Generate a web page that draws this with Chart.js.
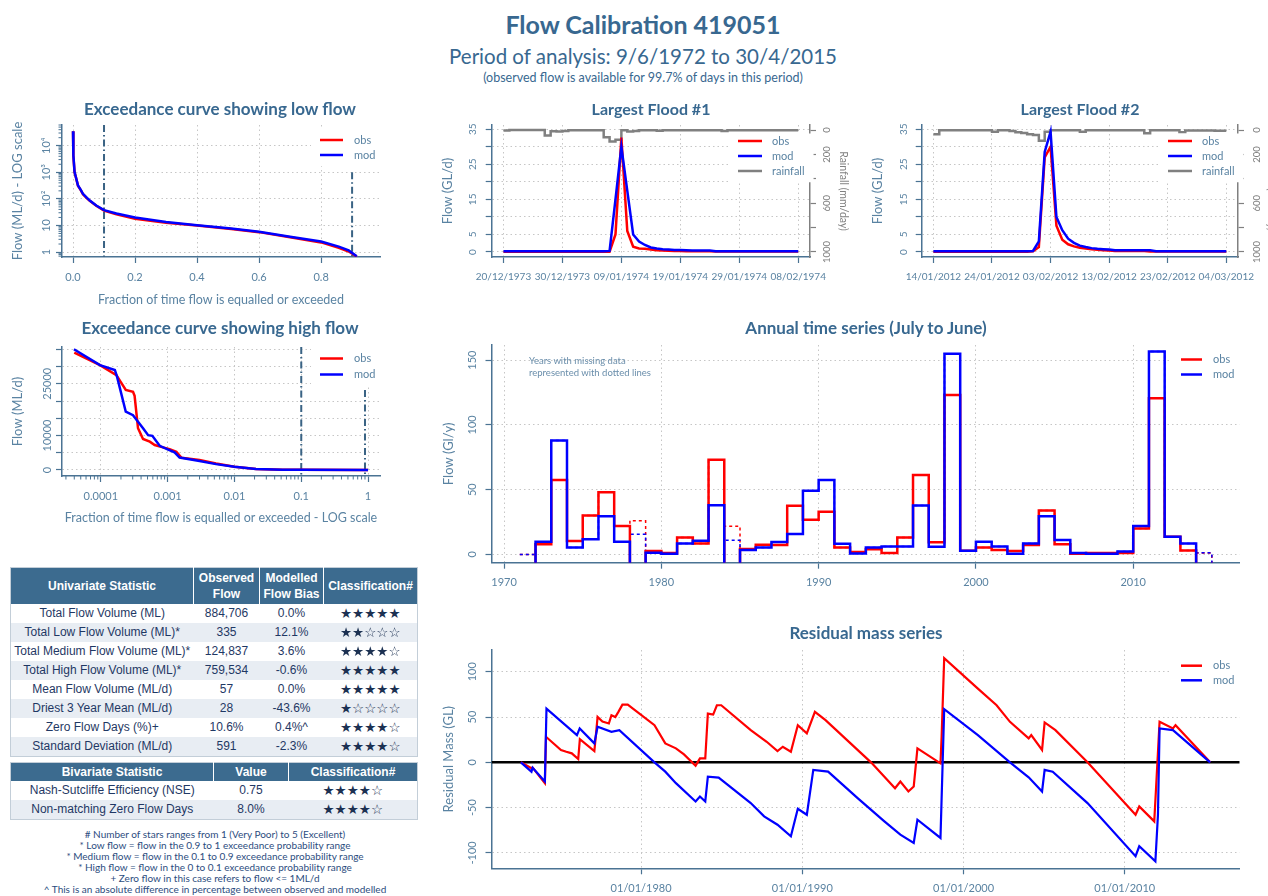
<!DOCTYPE html>
<html><head><meta charset="utf-8">
<script src="https://cdn.jsdelivr.net/npm/chart.js@4.4.1/dist/chart.umd.min.js"></script>
<style>
html,body{margin:0;padding:0}
body{width:1268px;height:896px;overflow:hidden;background:#fff;position:relative;font-family:Lato,'Noto Sans',sans-serif}
canvas{position:absolute}
.t{position:absolute;transform:translate(-50%,-50%);white-space:nowrap;color:#386890;text-align:center;z-index:2}
.pt{font-weight:bold;font-size:17px}
#note{position:absolute;left:529px;top:355px;font-size:9.5px;line-height:12px;color:#6a8eab;z-index:2}
table{position:absolute;border-collapse:collapse;font-family:'Liberation Sans',Arial,sans-serif;color:#1f3864;table-layout:fixed;border:1px solid #c3ced8;z-index:2}
th{background:#3c6b8f;color:#fff;font-weight:bold;font-size:12px;line-height:16px;border-right:1.5px solid #fff;padding:0;text-align:center}
th:last-child{border-right:none}
td{font-size:12px;height:19px;line-height:19px;padding:0;text-align:center;white-space:nowrap;overflow:hidden}
tr.alt td{background:#e8edf3}
.st{font-family:'DejaVu Sans',sans-serif;font-size:13.5px;color:#1c3152}
#foot{position:absolute;left:0;width:430px;top:829px;text-align:center;font-size:10px;line-height:11px;color:#2b4c7e;z-index:2}
</style></head><body>
<canvas id="c1"></canvas><canvas id="c2"></canvas><canvas id="c3"></canvas>
<canvas id="c4"></canvas><canvas id="c5"></canvas><canvas id="c6"></canvas>
<div class="t" style="left:643px;top:24px;font-size:25px;font-weight:bold">Flow Calibration 419051</div>
<div class="t" style="left:643px;top:56px;font-size:20.5px">Period of analysis: 9/6/1972 to 30/4/2015</div>
<div class="t" style="left:643px;top:77px;font-size:12.5px">(observed flow is available for 99.7% of days in this period)</div>
<div class="t pt" style="left:220px;top:108px">Exceedance curve showing low flow</div>
<div class="t pt" style="left:651px;top:108px;font-size:16px">Largest Flood #1</div>
<div class="t pt" style="left:1080px;top:108px;font-size:16px">Largest Flood #2</div>
<div class="t pt" style="left:220px;top:327px">Exceedance curve showing high flow</div>
<div class="t pt" style="left:866px;top:327px">Annual time series (July to June)</div>
<div class="t pt" style="left:866px;top:632px">Residual mass series</div>
<div id="note">Years with missing data<br>represented with dotted lines</div>
<table id="t1" style="left:10px;top:567px;width:407px"></table>
<table id="t2" style="left:10px;top:762px;width:407px"></table>
<div id="foot"></div>
<script>
// ================= DATA =================
// Exceedance curve - low flow (fraction of time, ML/d)
const lowFlowFrac = [0, 0.0005, 0.001, 0.002, 0.005, 0.01, 0.016, 0.025, 0.032, 0.045, 0.054, 0.075, 0.1, 0.14, 0.2, 0.3, 0.4, 0.51, 0.6, 0.7, 0.8, 0.857, 0.889, 0.915];
const lowFlowObs  = [35000, 15000, 8000, 4200, 1000, 600, 310, 212, 150, 104, 85, 55, 36, 26, 18, 12.6, 9.9, 7.4, 5.6, 3.6, 2.3, 1.45, 1.05, 0.68];
const lowFlowMod  = [35000, 15500, 8200, 4300, 1020, 610, 320, 218, 155, 108, 87, 56, 37.5, 28, 19.8, 13.5, 10.1, 7.6, 5.8, 3.75, 2.5, 1.6, 1.15, 0.7];
const lowFlowXTicks = [0, 0.2, 0.4, 0.6, 0.8];
const lowFlowXLabels = ['0.0', '0.2', '0.4', '0.6', '0.8'];
const lowFlowYTicks = [1, 10, 100, 1000, 10000];
const lowFlowYLabels = ['1', '10', '10²', '10³', '10⁴'];
const lowFlowMarkers = [{x: 0.1, top: 60000}, {x: 0.9, top: 1000}];

// Exceedance curve - high flow
const highObsFrac = [4e-5, 9.7e-5, 1.71e-4, 2.36e-4, 3.03e-4, 3.2e-4, 3.6e-4, 4.28e-4, 5.4e-4, 6.4e-4, 8.5e-4, 1.07e-3, 1.35e-3, 1.6e-3, 3e-3, 5.3e-3, 0.01, 0.021, 0.053, 0.1, 0.95, 1];
const highObs     = [34000, 30400, 27500, 23200, 22700, 21500, 12100, 9000, 8200, 7250, 6570, 6060, 5300, 3580, 2900, 1900, 970, 280, 70, 36, 0, 0];
const highModFrac = [3.95e-5, 9.7e-5, 1.62e-4, 1.75e-4, 2.36e-4, 3.03e-4, 3.6e-4, 4.28e-4, 5.1e-4, 5.9e-4, 7.6e-4, 1.0e-3, 1.27e-3, 1.51e-3, 3e-3, 5.3e-3, 0.01, 0.021, 0.053, 0.1, 0.95, 1];
const highMod     = [35000, 30400, 29000, 27000, 16900, 15900, 14000, 12100, 10100, 9900, 7000, 6000, 5100, 3600, 2600, 1700, 970, 290, 80, 37, 0, 0];
const highXTicks = [0.0001, 0.001, 0.01, 0.1, 1];
const highXLabels = ['0.0001', '0.001', '0.01', '0.1', '1'];
const highYTicks = [0, 5000, 10000, 15000, 20000, 25000, 30000, 35000];
const highYLabels = ['0', '', '10000', '', '', '25000', '', ''];
const highMarkers = [{x: 0.1, top: 35660}, {x: 0.9, top: 23200}];

// Largest floods (daily, GL/d and mm/day)
const flood1Obs = [0.1,0.1,0.1,0.1,0.1,0.1,0.1,0.1,0.1,0.1, 0.1,0.1,0.1,0.1,0.1,0.1,0.1,0.1,0.1,5, 32.6,6,1.5,1.0,0.9,0.7,0.5,0.4,0.35,0.3, 0.25,0.2,0.2,0.2,0.2,0.2,0.15,0.15,0.15,0.15, 0.15,0.15,0.15,0.15,0.15,0.15,0.15,0.15,0.15,0.15, 0.15];
const flood1Mod = [0.2,0.2,0.2,0.2,0.2,0.2,0.2,0.2,0.2,0.2, 0.2,0.2,0.2,0.2,0.2,0.2,0.2,0.2,0.3,15, 30,17.5,5,3,2,1.3,1.0,0.8,0.7,0.6, 0.55,0.5,0.45,0.45,0.45,0.45,0.2,0.2,0.2,0.2, 0.2,0.2,0.2,0.2,0.2,0.2,0.2,0.2,0.2,0.2, 0.2];
const flood1Rain = [5,1,1,1,1,1,1,45,10,12, 8,3,2,2,2,2,3,60,95,80, 2,12,8,3,3,3,6,2,2,2, 2,2,2,2,2,2,2,8,2,2, 2,2,2,2,2,2,2,2,2,2, 2];
const flood1Dates = ['20/12/1973', '30/12/1973', '09/01/1974', '19/01/1974', '29/01/1974', '08/02/1974'];
const flood2Obs = [0.1,0.1,0.1,0.1,0.1,0.1,0.1,0.1,0.1,0.1, 0.1,0.1,0.1,0.1,0.1,0.1,0.1,0.2,1.4,27, 30,7.5,3.5,2.2,1.6,1.2,1.0,0.8,0.6,0.5, 0.4,0.3,0.3,0.3,0.3,0.3,0.3,0.15,0.15,0.15, 0.15,0.15,0.15,0.15,0.15,0.15,0.15,0.15,0.15,0.15, 0.15];
const flood2Mod = [0.2,0.2,0.2,0.2,0.2,0.2,0.2,0.2,0.2,0.2, 0.2,0.2,0.2,0.2,0.2,0.2,0.2,0.3,3,28.5, 34.3,10,6.2,3.8,2.6,1.8,1.4,1.1,0.9,0.8, 0.7,0.5,0.5,0.5,0.5,0.5,0.5,0.5,0.2,0.2, 0.2,0.2,0.2,0.2,0.2,0.2,0.2,0.2,0.2,0.2, 0.2];
const flood2Rain = [35,2,2,2,2,2,2,2,2,2, 14,3,3,8,18,25,35,40,88,15, 2,3,3,3,3,14,3,3,3,3, 3,3,3,3,3,3,27,3,3,3, 3,3,18,5,5,5,5,5,6,6, 6];
const flood2Dates = ['14/01/2012', '24/01/2012', '03/02/2012', '13/02/2012', '23/02/2012', '04/03/2012'];
const floodXTicks = [0, 10, 20, 30, 40, 50];
const floodYTicks = [0, 5, 10, 15, 20, 25, 30, 35];
const floodYLabels = ['0', '5', '', '15', '', '25', '', '35'];
const rainTicks = [0, 200, 400, 600, 800, 1000];
const rainLabels = ['0', '200', '', '600', '', '1000'];

// Annual time series (GL/y), water year starting in July of the listed year
const annualYears = [1971,1972,1973,1974,1975,1976,1977,1978,1979,1980, 1981,1982,1983,1984,1985,1986,1987,1988,1989,1990, 1991,1992,1993,1994,1995,1996,1997,1998,1999,2000, 2001,2002,2003,2004,2005,2006,2007,2008,2009,2010, 2011,2012,2013,2014];
const annualObs = [0,7.8,57.5,10.4,30,48,22,26,2.6,1.0, 13,8.5,73,21.8,4.1,7.5,7.3,37.6,26.7,32.9, 5.4,1.8,3.9,1.0,13,61.4,9.3,123,2.8,5.4, 3.4,2.6,7.3,34,7.8,0.5,1.0,1.0,1.0,20, 120.5,13.7,3.1,1.0];
const annualMod = [0,9.8,88,5.4,11.7,29.5,9.8,15.5,1.3,0.5, 8.5,10.6,38,10.9,3.4,5.4,9.6,15.8,49.2,57.5, 8.3,0.8,5.4,6.2,6.2,37.8,6.0,155,2.8,9.8, 6.2,0.5,8.5,29.5,11.1,1.0,0.5,0.5,2.3,22, 156.7,13.7,8.5,1.3];
const annualMissing = [1971, 1978, 1984, 2014];
const annualEnd = 2015;
const annualXTicks = [1970, 1980, 1990, 2000, 2010];
const annualXLabels = ['1970', '1980', '1990', '2000', '2010'];
const annualYTicks = [0, 50, 100, 150];
const annualYLabels = ['0', '50', '100', '150'];

// Residual mass series (GL)
const resObsT = [1972.54,1973.2,1973.27,1974.03,1974.1,1975.03,1975.36,1975.7,1976.1,1976.2,1977.1,1977.18,1977.3,1977.6,1978.0,1978.16,1978.4,1978.6,1978.84,1979.17,1980.83,1981.5,1982.16,1982.66,1983.38,1983.65,1983.98,1984.14,1984.47,1984.7,1984.97,1986.8,1987.79,1988.46,1988.79,1989.29,1989.72,1990.28,1990.78,1991.44,1994.26,1995.75,1996.08,1996.58,1996.91,1997.14,1998.57,1998.64,1998.8,2000.89,2002.05,2002.88,2004.04,2004.2,2004.87,2005.03,2005.7,2007.69,2010.67,2010.9,2011.83,2011.93,2012.16,2012.99,2013.15,2015.3];
const resObsV = [0,-6.6,-5.9,-23,28.2,13.6,11.7,9.9,3.7,25.6,12.5,27,50.2,45,42.9,52,50,56,63.7,63.7,41,20.9,15.4,8.8,-3.7,4.4,4.4,53.8,52.7,63,63,35.5,22.7,12.5,17.2,11.7,41,31.9,55.7,46.5,0,-28.6,-21.2,-32.2,-26.7,15.4,-1.1,28,115,81.3,63,44.7,26.4,30,13.6,44,35.5,0,-57.9,-48.7,-65.2,-32.2,44.7,37.4,41,0];
const resModT = [1972.54,1973.2,1973.27,1974.03,1974.13,1976.02,1976.19,1977.1,1977.3,1978.16,1978.65,1980.83,1981.5,1982.16,1983.38,1983.65,1983.98,1984.14,1984.81,1986.8,1987.63,1988.46,1989.29,1989.72,1990.28,1990.68,1991.6,1993.43,1995.09,1996.08,1996.91,1997.14,1998.57,1998.8,2000.89,2002.88,2004.04,2004.87,2005.03,2005.53,2007.69,2010.67,2010.9,2011.9,2012.06,2012.16,2012.99,2015.3];
const resModV = [0,-10.3,-5.9,-21.2,59.3,30,37.4,20.9,39.2,33.7,35.5,0,-10.3,-23,-43.2,-37.7,-43.2,-15.8,-16.8,-45,-59.7,-68.9,-81.7,-51.3,-57.9,-8.4,-10.3,-39.6,-65.2,-79.9,-89,-63.4,-83.5,58.6,30,0,-16.5,-32.2,-8.4,-10.3,-45,-103.7,-92.7,-109.2,-57.9,37.4,35.5,0];
const resXTicks = [1980, 1990, 2000, 2010];
const resXLabels = ['01/01/1980', '01/01/1990', '01/01/2000', '01/01/2010'];
const resYTicks = [-100, -50, 0, 50, 100];
const resYLabels = ['-100', '-50', '0', '50', '100'];

// Statistics tables
const uniStats = ['Total Flow Volume (ML)', 'Total Low Flow Volume (ML)*', 'Total Medium Flow Volume (ML)*', 'Total High Flow Volume (ML)*', 'Mean Flow Volume (ML/d)', 'Driest 3 Year Mean (ML/d)', 'Zero Flow Days (%)+', 'Standard Deviation (ML/d)'];
const uniObserved = ['884,706', '335', '124,837', '759,534', '57', '28', '10.6%', '591'];
const uniBias = ['0.0%', '12.1%', '3.6%', '-0.6%', '0.0%', '-43.6%', '0.4%^', '-2.3%'];
const uniStars = [5, 2, 4, 5, 5, 1, 4, 4];
const biStats = ['Nash-Sutcliffe Efficiency (NSE)', 'Non-matching Zero Flow Days'];
const biValues = ['0.75', '8.0%'];
const biStars = [4, 4];
const footNotes = ['# Number of stars ranges from 1 (Very Poor) to 5 (Excellent)', '* Low flow = flow in the 0.9 to 1 exceedance probability range', '* Medium flow = flow in the 0.1 to 0.9 exceedance probability range', '* High flow = flow in the 0 to 0.1 exceedance probability range', '+ Zero flow in this case refers to flow <= 1ML/d', '^ This is an absolute difference in percentage between observed and modelled'];

// ================= STYLE / HELPERS =================
const AX = '#4a7393', LBL = '#5a83a2', GRID = '#c6c6c6', DASHC = '#3a6384';
const RED = '#ff0000', BLUE = '#0000ff', GREY = '#808080';
const OFF = -30;
Chart.defaults.font.family = 'Lato';
Chart.defaults.color = LBL;
Chart.defaults.animation = false;

const mctx = document.createElement('canvas').getContext('2d');
function measure(labels, size) { mctx.font = size + 'px Lato'; return Math.max(...labels.map(t => mctx.measureText(t).width)); }

function axis(o) {
  const tl = 6;
  const color = o.color || AX, lcolor = o.lcolor || LBL;
  const pad = o.pos === 'bottom' ? o.center - tl - o.size * 0.6 : o.center - tl - measure(o.labels, o.size) / 2;
  const cfg = {
    type: o.type || 'linear', position: o.pos, min: o.min, max: o.max, reverse: !!o.reverse,
    afterBuildTicks: s => { s.ticks = o.ticks.map(v => ({value: v})); },
    ticks: {autoSkip: false, color: lcolor, font: {family: 'Lato', size: o.size}, padding: pad,
      callback: (v, i) => (o.labels[i] !== undefined ? o.labels[i] : '')},
    grid: {display: true, drawOnChartArea: o.grid !== false, color: GRID, lineWidth: 1, drawTicks: true, tickLength: tl, tickColor: color, tickWidth: 1.2, tickBorderDash: []},
    border: {display: true, color: color, width: 1.5, dash: [1.5, 3]},
    title: o.title ? {display: true, text: o.title, color: o.tcolor || lcolor, font: {family: 'Lato', size: o.tsize}, padding: {top: o.tpad, bottom: o.tpad}} : {display: false}
  };
  if (o.pos === 'bottom') { cfg.ticks.minRotation = 0; cfg.ticks.maxRotation = 0; }
  else { cfg.ticks.minRotation = 90; cfg.ticks.maxRotation = 90; cfg.ticks.crossAlign = 'center'; }
  return cfg;
}

function pts(xs, ys) { return xs.map((x, i) => ({x: x, y: ys[i]})); }
function line(data, color, w, extra) { return Object.assign({data: data, borderColor: color, borderWidth: w, pointRadius: 0, fill: false, tension: 0}, extra || {}); }

function legendPlugin(box, spec) {
  return {id: 'insideLegend', afterDatasetsDraw(chart) {
    const ctx = chart.ctx; ctx.save();
    ctx.font = (spec.size || 11) + 'px Lato'; ctx.textBaseline = 'middle'; ctx.textAlign = 'left';
    const tw = Math.max(...spec.items.map(it => ctx.measureText(it.label).width));
    const n = spec.items.length;
    const top = spec.y - (spec.bgTop !== undefined ? spec.bgTop : spec.dy * 0.75);
    ctx.fillStyle = '#fff';
    ctx.fillRect(spec.x1 - 9 - box.l, top - box.t, spec.tx - spec.x1 + tw + 18, spec.y + spec.dy * (n - 1) + spec.dy * 0.75 - top);
    spec.items.forEach((it, i) => {
      const y = spec.y + i * spec.dy - box.t;
      ctx.strokeStyle = it.color; ctx.lineWidth = 2.5; ctx.setLineDash([]);
      ctx.beginPath(); ctx.moveTo(spec.x1 - box.l, y); ctx.lineTo(spec.x2 - box.l, y); ctx.stroke();
      ctx.fillStyle = LBL; ctx.fillText(it.label, spec.tx - box.l, y);
    });
    ctx.restore();
  }};
}

function minorPlugin(axisId, values, len) {
  return {id: 'minor_' + axisId, afterDraw(chart) {
    const s = chart.scales[axisId], ctx = chart.ctx; ctx.save();
    ctx.strokeStyle = AX; ctx.lineWidth = 1; ctx.beginPath();
    values.forEach(v => {
      if (v < s.min || v > s.max) return;
      const p = s.getPixelForValue(v);
      if (s.isHorizontal()) { ctx.moveTo(p, s.top); ctx.lineTo(p, s.top + len); }
      else { ctx.moveTo(s.right, p); ctx.lineTo(s.right - len, p); }
    });
    ctx.stroke(); ctx.restore();
  }};
}
function logMinors(decades) { const out = []; decades.forEach(d => { for (let k = 2; k <= 9; k++) out.push(k * d); }); return out; }

function makeChart(id, box, area, rightW, config) {
  const cv = document.getElementById(id);
  cv.width = box.w; cv.height = box.h;
  cv.style.left = box.l + 'px'; cv.style.top = box.t + 'px';
  cv.style.width = box.w + 'px'; cv.style.height = box.h + 'px';
  const o = config.options;
  o.responsive = false; o.animation = false; o.devicePixelRatio = 1;
  o.layout = {padding: {left: 0, top: area.t - box.t, right: box.l + box.w - area.r - rightW, bottom: 0}};
  o.scales.x.afterFit = s => { s.height = box.t + box.h - area.b; };
  o.scales.y.afterFit = s => { s.width = area.l - box.l; };
  if (o.scales.y2) o.scales.y2.afterFit = s => { s.width = rightW; };
  o.plugins = {legend: {display: false}, tooltip: {enabled: false}, title: {display: false}};
  return new Chart(cv, config);
}
const MARK = {borderDash: [7, 3, 1.5, 3], order: 5};

// ---------- Chart 1: low flow exceedance ----------
const b1 = {l: 0, t: 105, w: 430, h: 208}, a1 = {l: 62, t: 125, r: 380, b: 257};
const LOW_YMIN = 0.65, LOW_YMAX = 60000;
makeChart('c1', b1, a1, 0, {
  type: 'line',
  data: {datasets: [
    line(pts(lowFlowFrac, lowFlowMod), BLUE, 2.5, {order: 0}),
    line(pts(lowFlowFrac, lowFlowObs), RED, 2.5, {order: 1}),
    ...lowFlowMarkers.map(m => line([{x: m.x, y: m.top}, {x: m.x, y: LOW_YMIN}], DASHC, 2, MARK))
  ]},
  options: {scales: {
    x: axis({pos: 'bottom', min: -0.0355, max: 0.99, ticks: lowFlowXTicks, labels: lowFlowXLabels, size: 11, center: 20, title: 'Fraction of time flow is equalled or exceeded', tsize: 12.5, tpad: 5.5}),
    y: axis({type: 'logarithmic', pos: 'left', min: LOW_YMIN, max: LOW_YMAX, ticks: lowFlowYTicks, labels: lowFlowYLabels, size: 11, center: 15.3, title: 'Flow (ML/d) - LOG scale', tsize: 13, tpad: 10.2})
  }},
  plugins: [minorPlugin('y', [0.7, 0.8, 0.9].concat(logMinors([1, 10, 100, 1000, 10000])), 3.5),
    legendPlugin(b1, {x1: 320, x2: 343, tx: 354, y: 140, dy: 15, items: [{label: 'obs', color: RED}, {label: 'mod', color: BLUE}]})]
});

// ---------- Chart 2: high flow exceedance ----------
const b2 = {l: 0, t: 327, w: 430, h: 208}, a2 = {l: 62, t: 347, r: 380, b: 476};
const HIGH_YMIN = -1740, HIGH_YMAX = 35660;
makeChart('c2', b2, a2, 0, {
  type: 'line',
  data: {datasets: [
    line(pts(highModFrac, highMod), BLUE, 2.5, {order: 0}),
    line(pts(highObsFrac, highObs), RED, 2.5, {order: 1}),
    ...highMarkers.map(m => line([{x: m.x, y: m.top}, {x: m.x, y: HIGH_YMIN}], DASHC, 2, MARK))
  ]},
  options: {scales: {
    x: axis({type: 'logarithmic', pos: 'bottom', min: 2.62e-5, max: 1.51, ticks: highXTicks, labels: highXLabels, size: 11, center: 20, title: 'Fraction of time flow is equalled or exceeded - LOG scale', tsize: 12.5, tpad: 9.5}),
    y: axis({pos: 'left', min: HIGH_YMIN, max: HIGH_YMAX, ticks: highYTicks, labels: highYLabels, size: 11, center: 15, title: 'Flow (ML/d)', tsize: 13, tpad: 10.2})
  }},
  plugins: [minorPlugin('x', logMinors([1e-5, 1e-4, 1e-3, 1e-2, 0.1]), 3.5),
    legendPlugin(b2, {x1: 320, x2: 343, tx: 354, y: 358.5, dy: 16, items: [{label: 'obs', color: RED}, {label: 'mod', color: BLUE}]})]
});

// ---------- Flood charts ----------
function floodChart(id, box, area, obs, mod, rain, dates, yCenter, y2Center, yTpad, legendX) {
  const days = obs.map((_, i) => i);
  makeChart(id, box, area, 40, {
    type: 'line',
    data: {datasets: [
      line(pts(days, mod), BLUE, 2.5, {order: 0}),
      line(pts(days, obs), RED, 2.5, {order: 1}),
      line(pts(days, rain), GREY, 2.5, {order: 2, yAxisID: 'y2', stepped: true})
    ]},
    options: {scales: {
      x: axis({pos: 'bottom', min: -2, max: 52, ticks: floodXTicks, labels: dates, size: 10, center: 20}),
      y: axis({pos: 'left', min: -1.43, max: 36.2, ticks: floodYTicks, labels: floodYLabels, size: 10, center: yCenter, title: 'Flow (GL/d)', tsize: 13, tpad: yTpad}),
      y2: axis({pos: 'right', min: -41, max: 1041, reverse: true, ticks: rainTicks, labels: rainLabels, size: 9.5, center: y2Center, title: 'Rainfall (mm/day)', tsize: 10.5, tpad: 0.7, color: GREY, lcolor: GREY, tcolor: GREY, grid: false})
    }},
    plugins: [legendPlugin(box, {x1: legendX, x2: legendX + 24, tx: legendX + 34, y: 141, dy: 15, bgTop: 7.5, items: [{label: 'obs', color: RED}, {label: 'mod', color: BLUE}, {label: 'rainfall', color: GREY}]})]
  });
}
floodChart('c3', {l: 430, t: 105, w: 420, h: 185}, {l: 491.7, t: 125, r: 810, b: 257}, flood1Obs, flood1Mod, flood1Rain, flood1Dates, 19.4, 16.7, 10.2, 738);
floodChart('c4', {l: 850, t: 105, w: 430, h: 185}, {l: 921.7, t: 125, r: 1238, b: 257}, flood2Obs, flood2Mod, flood2Rain, flood2Dates, 18.4, 19, 20.2, 1168);

// ---------- Annual time series ----------
const b5 = {l: 430, t: 325, w: 838, h: 273}, a5 = {l: 491.5, t: 345, r: 1239.7, b: 562.7};
function solidSteps(v) { const d = annualYears.map((y, i) => ({x: y, y: annualMissing.includes(y) ? OFF : v[i]})); d.push({x: annualEnd, y: d[d.length - 1].y}); return d; }
function dottedSteps(v) { const d = annualYears.map((y, i) => ({x: y, y: v[i]})); d.push({x: annualEnd, y: OFF}); return d; }
makeChart('c5', b5, a5, 0, {
  type: 'line',
  data: {datasets: [
    line(solidSteps(annualMod), BLUE, 2.5, {order: 0, stepped: true}),
    line(solidSteps(annualObs), RED, 2.5, {order: 1, stepped: true}),
    line(dottedSteps(annualMod), BLUE, 1.5, {order: 2, stepped: true, borderDash: [3, 3]}),
    line(dottedSteps(annualObs), RED, 1.5, {order: 3, stepped: true, borderDash: [3, 3]})
  ]},
  options: {scales: {
    x: axis({pos: 'bottom', min: 1969.2, max: 2016.77, ticks: annualXTicks, labels: annualXLabels, size: 11, center: 19.3}),
    y: axis({pos: 'left', min: -6.4, max: 161.7, ticks: annualYTicks, labels: annualYLabels, size: 11, center: 18.7, title: 'Flow (Gl/y)', tsize: 13, tpad: 10.9})
  }},
  plugins: [legendPlugin(b5, {x1: 1181, x2: 1202, tx: 1213, y: 359.5, dy: 15, items: [{label: 'obs', color: RED}, {label: 'mod', color: BLUE}]})]
});

// ---------- Residual mass ----------
const b6 = {l: 430, t: 630, w: 838, h: 266}, a6 = {l: 491.5, t: 650, r: 1239.7, b: 868.3};
const RES_XMIN = 1970.72, RES_XMAX = 2017.13;
makeChart('c6', b6, a6, 0, {
  type: 'line',
  data: {datasets: [
    line(pts(resModT, resModV), BLUE, 2.2, {order: 0}),
    line(pts(resObsT, resObsV), RED, 2.2, {order: 1}),
    line([{x: RES_XMIN, y: 0}, {x: RES_XMAX, y: 0}], '#000000', 2.5, {order: 2})
  ]},
  options: {scales: {
    x: axis({pos: 'bottom', min: RES_XMIN, max: RES_XMAX, ticks: resXTicks, labels: resXLabels, size: 11, center: 20}),
    y: axis({pos: 'left', min: -117, max: 124, ticks: resYTicks, labels: resYLabels, size: 11, center: 18.7, title: 'Residual Mass (GL)', tsize: 13, tpad: 10.9})
  }},
  plugins: [legendPlugin(b6, {x1: 1181, x2: 1202, tx: 1213, y: 665.7, dy: 14.6, items: [{label: 'obs', color: RED}, {label: 'mod', color: BLUE}]})]
});

// ---------- Tables & notes ----------
function stars(n) { return '★'.repeat(n) + '☆'.repeat(5 - n); }
let h1 = '<colgroup><col style="width:183px"><col style="width:66px"><col style="width:64px"><col style="width:94px"></colgroup>';
h1 += '<tr style="height:36px"><th>Univariate Statistic</th><th>Observed<br>Flow</th><th>Modelled<br>Flow Bias</th><th>Classification#</th></tr>';
uniStats.forEach((s, i) => { h1 += '<tr' + (i % 2 ? ' class="alt"' : '') + '><td>' + s + '</td><td>' + uniObserved[i] + '</td><td>' + uniBias[i] + '</td><td class="st">' + stars(uniStars[i]) + '</td></tr>'; });
document.getElementById('t1').innerHTML = h1;
let h2 = '<colgroup><col style="width:203px"><col style="width:75px"><col style="width:129px"></colgroup>';
h2 += '<tr style="height:18px"><th>Bivariate Statistic</th><th>Value</th><th>Classification#</th></tr>';
biStats.forEach((s, i) => { h2 += '<tr' + (i % 2 ? ' class="alt"' : '') + '><td>' + s + '</td><td>' + biValues[i] + '</td><td class="st">' + stars(biStars[i]) + '</td></tr>'; });
document.getElementById('t2').innerHTML = h2;
document.getElementById('foot').innerHTML = footNotes.map(t => t.replace(/</g, '&lt;')).join('<br>');
</script>
</body></html>
